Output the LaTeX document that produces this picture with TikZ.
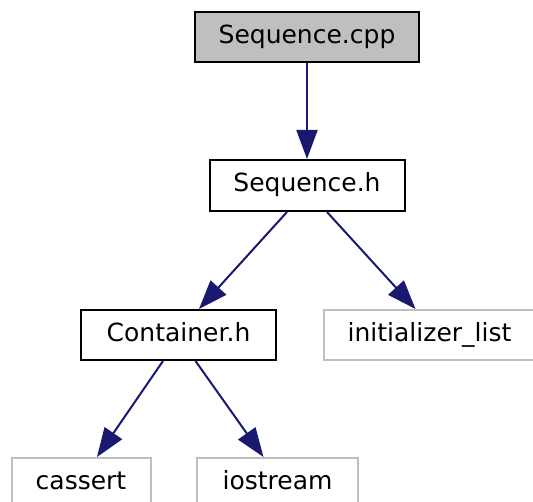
\documentclass[tikz,border=0pt]{standalone}
\usepackage{fontspec}
\setmainfont{DejaVu Sans}
\usetikzlibrary{arrows.meta}
\definecolor{edgeblue}{HTML}{191970}
\definecolor{boxgray}{HTML}{BFBFBF}
\tikzset{
  file/.style={draw=black, line width=2pt, rectangle, inner sep=0pt,
    minimum height=50pt, text height=18.5pt, text depth=6pt,
    font=\fontsize{25pt}{28pt}\selectfont},
  mainfile/.style={file, fill=boxgray},
  extfile/.style={file, draw=boxgray},
  dep/.style={draw=edgeblue, line width=2pt,
    -{Triangle[length=29pt,width=21pt]}, edgeblue}
}
\begin{document}
\begin{tikzpicture}[x=1pt, y=-1pt]
  \useasboundingbox (0,0) rectangle (533,502);
  \node[mainfile, minimum width=224pt] (cpp) at (307,37) {Sequence.cpp};
  \node[file, minimum width=195pt, minimum height=51pt] (seqh) at (307,185.5) {Sequence.h};
  \node[file, minimum width=195pt] (cont) at (178.5,335) {Container.h};
  \node[extfile, minimum width=212pt] (init) at (429.5,335) {initializer\_list};
  \node[extfile, minimum width=139pt] (cassert) at (81,483) {cassert};
  \node[extfile, minimum width=161pt] (iostream) at (277.5,483) {iostream};

  \draw[dep] (cpp.south) -- (seqh.north);
  \draw[dep] ([xshift=-20pt]seqh.south) -- ([xshift=20.5pt]cont.north);
  \draw[dep] ([xshift=20pt]seqh.south) -- ([xshift=-14pt]init.north);
  \draw[dep] ([xshift=-15.5pt]cont.south) -- ([xshift=16pt]cassert.north);
  \draw[dep] ([xshift=17pt]cont.south) -- ([xshift=-14pt]iostream.north);
\end{tikzpicture}
\end{document}
